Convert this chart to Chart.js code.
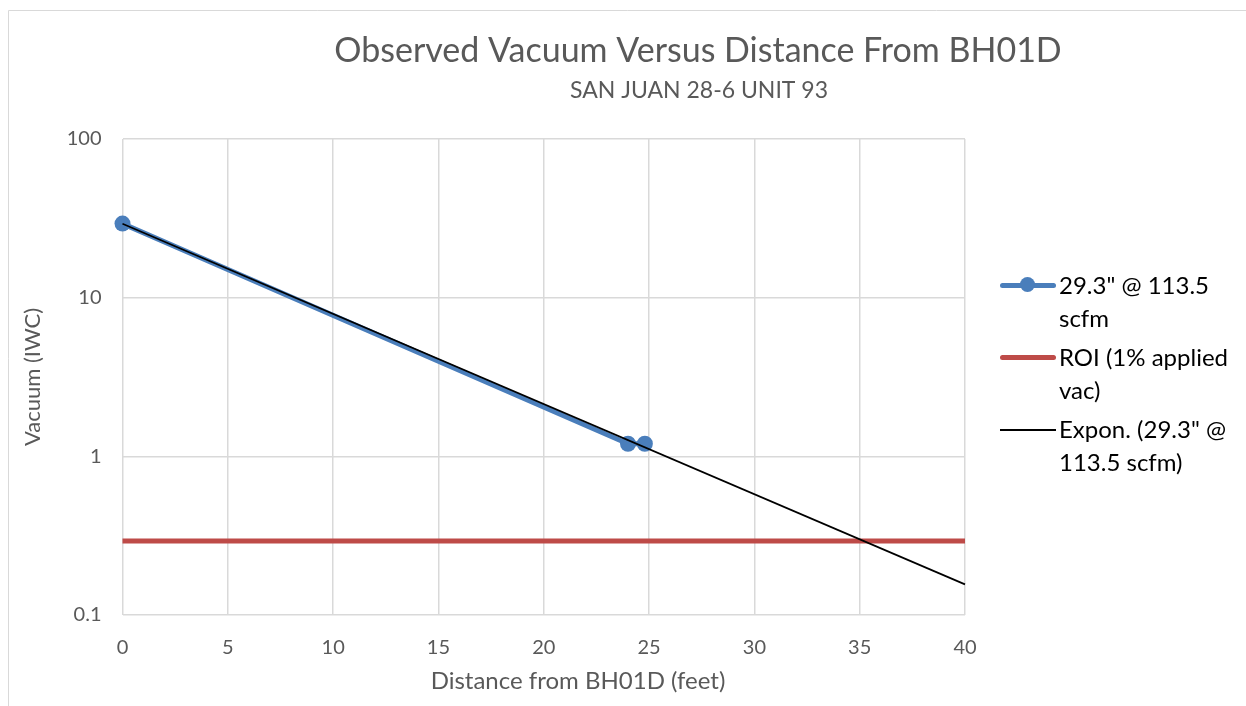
<!DOCTYPE html>
<html>
<head>
<meta charset="utf-8">
<script src="https://cdn.jsdelivr.net/npm/chart.js@4"></script>
<style>
  html, body { margin: 0; padding: 0; background: #fff; }
  #wrap { position: relative; width: 1246px; height: 706px; }
  #legend { position: absolute; left: 1000px; top: 268px; font-family: Lato, "Liberation Sans", sans-serif; font-size: 24px; color: #000; }
  .item { position: relative; padding-left: 59px; line-height: 33px; margin-bottom: 6px; }
  .swatch { position: absolute; left: 0; top: 15px; width: 56px; }
  .dot { position: absolute; left: 20px; top: -6px; width: 15px; height: 15px; border-radius: 50%; background: #4a7ebb; }
</style>
</head>
<body>
<div id="wrap">
  <canvas id="chart" width="1246" height="706"></canvas>
  <div id="legend"></div>
</div>
<script>
// Dados
const distancia = [0, 24, 24.8];
const vacuo = [29.3, 1.2, 1.2];
const roiX = [0, 40];
const roiY = [0.293, 0.293];
const tendX = [0, 40];
const tendY = [29.2, 0.156];
const xTicks = [0, 5, 10, 15, 20, 25, 30, 35, 40];
const yTicks = [0.1, 1, 10, 100];

const titulo = 'Observed Vacuum Versus Distance From BH01D';
const subtitulo = 'SAN JUAN 28-6 UNIT 93';
const tituloX = 'Distance from BH01D (feet)';
const tituloY = 'Vacuum (IWC)';
const legendas = [
  ['29.3" @ 113.5', 'scfm'],
  ['ROI (1% applied', 'vac)'],
  ['Expon. (29.3" @', '113.5 scfm)']
];

const fonte = 'Lato, "Liberation Sans", sans-serif';
const cinza = '#595959';

function pares(xs, ys) {
  return xs.map((x, i) => ({ x: x, y: ys[i] }));
}

// Textos extras e moldura
const textos = {
  id: 'textos',
  beforeDraw(chart) {
    const c = chart.ctx;
    c.save();
    c.strokeStyle = '#d9d9d9';
    c.lineWidth = 1;
    c.beginPath();
    c.moveTo(8.5, 706);
    c.lineTo(8.5, 10.5);
    c.lineTo(1246, 10.5);
    c.stroke();
    c.restore();
  },
  afterDraw(chart) {
    const c = chart.ctx;
    c.save();
    c.fillStyle = cinza;
    c.textAlign = 'center';
    c.textBaseline = 'middle';
    c.font = '34px ' + fonte;
    c.fillText(titulo, 698, 51);
    c.font = '23px ' + fonte;
    c.fillText(subtitulo, 699, 91);
    c.font = '24px ' + fonte;
    c.fillText(tituloX, 578, 681);
    c.translate(33, 377);
    c.rotate(-Math.PI / 2);
    c.font = '22px ' + fonte;
    c.fillText(tituloY, 0, 0);
    c.restore();
  }
};

const ctx = document.getElementById('chart').getContext('2d');
const grafico = new Chart(ctx, {
  type: 'scatter',
  data: {
    datasets: [
      {
        label: legendas[2].join(' '),
        data: pares(tendX, tendY),
        showLine: true,
        borderColor: '#000000',
        borderWidth: 1.7,
        pointRadius: 0,
        clip: false,
        order: 0
      },
      {
        label: legendas[0].join(' '),
        data: pares(distancia, vacuo),
        showLine: true,
        borderColor: '#4a7ebb',
        backgroundColor: '#4a7ebb',
        borderWidth: 5,
        pointRadius: 8,
        pointBorderWidth: 0,
        clip: false,
        order: 1
      },
      {
        label: legendas[1].join(' '),
        data: pares(roiX, roiY),
        showLine: true,
        borderColor: '#be4b48',
        borderWidth: 5,
        pointRadius: 0,
        clip: false,
        order: 2
      }
    ]
  },
  options: {
    responsive: false,
    animation: false,
    layout: { padding: { left: 0, right: 281, top: 139, bottom: 0 } },
    plugins: {
      legend: { display: false },
      tooltip: { enabled: false }
    },
    scales: {
      x: {
        type: 'linear',
        min: 0,
        max: 40,
        afterBuildTicks: (s) => { s.ticks = xTicks.map(v => ({ value: v })); },
        afterFit: (s) => { s.height = 91; },
        grid: { color: '#d9d9d9', lineWidth: 1.5, drawTicks: false },
        border: { display: false },
        ticks: { color: cinza, font: { family: fonte, size: 20 }, padding: 21, maxRotation: 0 }
      },
      y: {
        type: 'logarithmic',
        min: 0.1,
        max: 100,
        afterBuildTicks: (s) => { s.ticks = yTicks.map(v => ({ value: v })); },
        afterFit: (s) => { s.width = 122.5; },
        grid: { color: '#d9d9d9', lineWidth: 1.5, drawTicks: false },
        border: { display: false },
        ticks: {
          color: cinza,
          font: { family: fonte, size: 20 },
          padding: 21,
          callback: (v) => String(v)
        }
      }
    }
  },
  plugins: [textos]
});

// Legenda em HTML
const legEl = document.getElementById('legend');
const amostras = [
  '<div class="swatch" style="height:5px;background:#4a7ebb;border-radius:3px"><div class="dot"></div></div>',
  '<div class="swatch" style="height:5px;background:#be4b48;border-radius:3px"></div>',
  '<div class="swatch" style="height:2px;background:#000;top:17px"></div>'
];
legendas.forEach((linhas, i) => {
  const d = document.createElement('div');
  d.className = 'item';
  d.innerHTML = amostras[i] + linhas.join('<br>');
  legEl.appendChild(d);
});
</script>
</body>
</html>
